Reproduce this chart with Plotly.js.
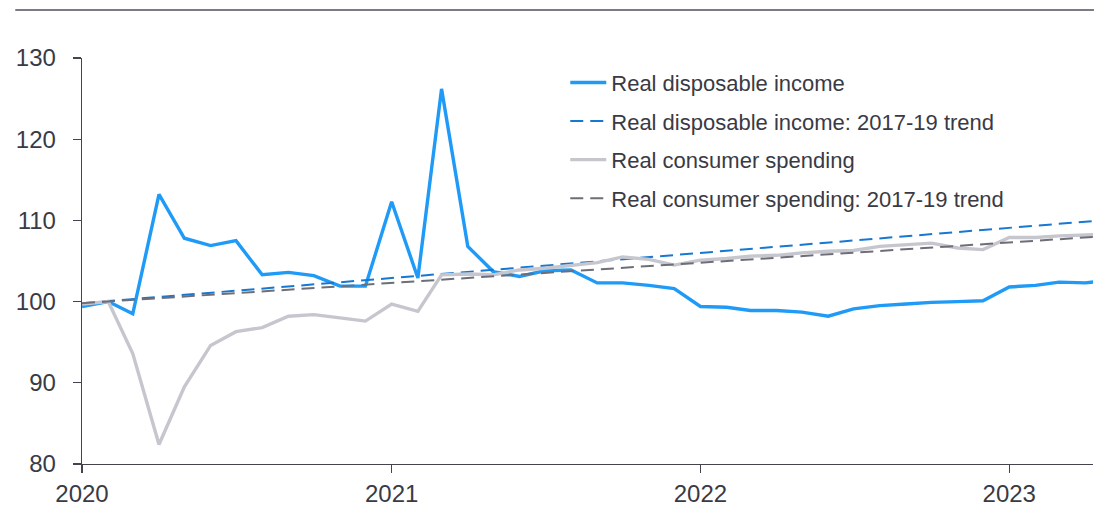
<!DOCTYPE html>
<html>
<head>
<meta charset="utf-8">
<script src="https://cdn.plot.ly/plotly-3.0.1.min.js"></script>
<style>
html,body{margin:0;padding:0;background:#fff;}
#chart{width:1094px;height:508px;}
</style>
</head>
<body>
<div id="chart"></div>
<script>
const months = [
 "2020-01-01","2020-02-01","2020-03-01","2020-04-01","2020-05-01","2020-06-01",
 "2020-07-01","2020-08-01","2020-09-01","2020-10-01","2020-11-01","2020-12-01",
 "2021-01-01","2021-02-01","2021-03-01","2021-04-01","2021-05-01","2021-06-01",
 "2021-07-01","2021-08-01","2021-09-01","2021-10-01","2021-11-01","2021-12-01",
 "2022-01-01","2022-02-01","2022-03-01","2022-04-01","2022-05-01","2022-06-01",
 "2022-07-01","2022-08-01","2022-09-01","2022-10-01","2022-11-01","2022-12-01",
 "2023-01-01","2023-02-01","2023-03-01","2023-04-01","2023-05-01"
];
const incomeValues = [
 99.4,100.0,98.5,113.2,107.8,106.9,107.5,103.3,103.6,103.2,101.9,101.9,
 112.3,102.9,126.2,106.8,103.7,103.1,103.8,103.9,102.3,102.3,102.0,101.6,
 99.4,99.3,98.9,98.9,98.7,98.2,99.1,99.5,99.7,99.9,100.0,100.1,
 101.8,102.0,102.4,102.3,102.7
];
const spendingValues = [
 99.7,100.0,93.6,82.4,89.5,94.6,96.3,96.8,98.2,98.4,98.0,97.6,
 99.7,98.8,103.3,103.4,103.3,103.9,104.1,104.4,104.8,105.5,105.2,104.5,
 105.1,105.3,105.6,105.7,106.0,106.2,106.3,106.8,107.0,107.2,106.6,106.4,
 107.9,107.9,108.1,108.2,108.3
];
const trendDates = ["2020-01-01","2023-05-01"];
const incomeTrend = [99.8, 110.1];
const spendingTrend = [99.8, 108.1];
const xTickLabels = ["2020","2021","2022","2023"];
const xTickVals = ["2020-01-01","2021-01-01","2022-01-01","2023-01-01"];
const yTickVals = [80,90,100,110,120,130];

const traces = [
 {x: months, y: incomeValues, name: "Real disposable income", type: "scatter", mode: "lines",
  line: {color: "#1f9bf7", width: 3.4}, legendgroup: "a"},
 {x: trendDates, y: incomeTrend, name: "Real disposable income: 2017-19 trend", type: "scatter", mode: "lines",
  line: {color: "#1778d2", width: 2, dash: "13px,7px"}, legendgroup: "b"},
 {x: months, y: spendingValues, name: "Real consumer spending", type: "scatter", mode: "lines",
  line: {color: "#c6c6ce", width: 3.4}, legendgroup: "c"},
 {x: trendDates, y: spendingTrend, name: "Real consumer spending: 2017-19 trend", type: "scatter", mode: "lines",
  line: {color: "#6e6e79", width: 2, dash: "13px,7px"}, legendgroup: "d"}
];

const fontFam = "Liberation Sans, Arial, sans-serif";
const layout = {
 width: 1094, height: 508,
 margin: {l: 82, r: 1, t: 58, b: 44},
 paper_bgcolor: "#ffffff", plot_bgcolor: "#ffffff",
 showlegend: true,
 legend: {x: 0.478, y: 0.991, xanchor: "left", yanchor: "top",
  font: {family: fontFam, size: 22, color: "#3a3a45"},
  bgcolor: "rgba(0,0,0,0)", tracegroupgap: 7, traceorder: "grouped", itemwidth: 36},
 xaxis: {type: "date", range: ["2020-01-01","2023-04-10"],
  tickvals: xTickVals, ticktext: xTickLabels,
  showgrid: false, zeroline: false, showline: true, linecolor: "#44444f", linewidth: 1.3,
  ticks: "outside", ticklen: 8, tickcolor: "#44444f", tickwidth: 1.3,
  tickfont: {family: fontFam, size: 24, color: "#3a3a45"}},
 yaxis: {range: [80,130], tickvals: yTickVals,
  showgrid: false, zeroline: false, showline: true, linecolor: "#44444f", linewidth: 1.3,
  ticks: "outside", ticklen: 8, tickcolor: "#44444f", tickwidth: 1.3, ticklabelstandoff: 12,
  tickfont: {family: fontFam, size: 24, color: "#3a3a45"}},
 shapes: [{type: "line", xref: "paper", yref: "paper", x0: -0.066, x1: 1.01, y0: 1.118, y1: 1.118,
  line: {color: "#7b7b86", width: 2}}]
};
Plotly.newPlot("chart", traces, layout, {displayModeBar: false, staticPlot: true});
</script>
</body>
</html>
